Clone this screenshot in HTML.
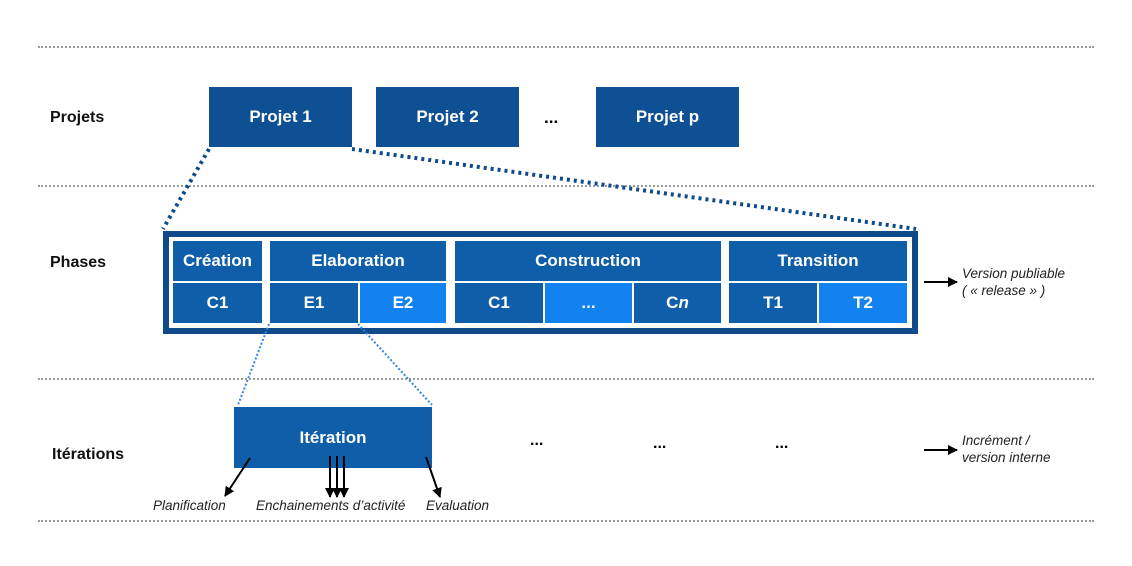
<!DOCTYPE html>
<html><head><meta charset="utf-8"><style>
body{margin:0;width:1132px;height:566px;background:#fff;font-family:"Liberation Sans",Arial,sans-serif;position:relative;overflow:hidden}
.a{position:absolute}
.b{position:absolute;background:#0e5ea9;color:#fff;font-weight:bold;display:flex;align-items:center;justify-content:center;font-size:17px}
.l{background:#1282f0}
.p{background:#0f4f93;font-size:17px}
.lab{position:absolute;font-weight:bold;font-size:16px;color:#111}
.it{position:absolute;font-style:italic;font-size:13.5px;color:#222;line-height:17px}
.dl{position:absolute;left:38px;width:1056px;border-top:2px dotted #999;height:0}
</style></head><body>
<div class="dl" style="top:46px"></div>
<div class="dl" style="top:185px"></div>
<div class="dl" style="top:378px"></div>
<div class="dl" style="top:520px"></div>
<div class="lab" style="left:50px;top:109px">Projets</div>
<div class="lab" style="left:50px;top:254px">Phases</div>
<div class="lab" style="left:52px;top:446px">Itérations</div>
<div class="b p" style="left:209px;top:87px;width:143px;height:60px">Projet 1</div>
<div class="b p" style="left:376px;top:87px;width:143px;height:60px">Projet 2</div>
<div class="a" style="left:544px;top:108px;font-weight:bold;font-size:17px">...</div>
<div class="b p" style="left:596px;top:87px;width:143px;height:60px">Projet p</div>
<div class="a" style="left:163px;top:231px;width:743px;height:91px;border:6px solid #0f4a8a;background:#fff"></div>
<div class="b" style="left:173px;top:241px;width:89px;height:40px">Création</div>
<div class="b" style="left:173px;top:283px;width:89px;height:40px">C1</div>
<div class="b" style="left:270px;top:241px;width:176px;height:40px">Elaboration</div>
<div class="b" style="left:270px;top:283px;width:88px;height:40px">E1</div>
<div class="b l" style="left:360px;top:283px;width:86px;height:40px">E2</div>
<div class="b" style="left:455px;top:241px;width:266px;height:40px">Construction</div>
<div class="b" style="left:455px;top:283px;width:88px;height:40px">C1</div>
<div class="b l" style="left:545px;top:283px;width:87px;height:40px">...</div>
<div class="b" style="left:634px;top:283px;width:87px;height:40px">C<i>n</i></div>
<div class="b" style="left:729px;top:241px;width:178px;height:40px">Transition</div>
<div class="b" style="left:729px;top:283px;width:88px;height:40px">T1</div>
<div class="b l" style="left:819px;top:283px;width:88px;height:40px">T2</div>
<div class="b" style="left:234px;top:407px;width:198px;height:61px">Itération</div>
<div class="a" style="left:530px;top:432px;font-weight:bold;font-size:16px">...</div>
<div class="a" style="left:653px;top:435px;font-weight:bold;font-size:16px">...</div>
<div class="a" style="left:775px;top:435px;font-weight:bold;font-size:16px">...</div>
<svg class="a" style="left:0;top:0" width="1132" height="566">
<defs><marker id="m" markerWidth="10" markerHeight="10" refX="9" refY="5" orient="auto" markerUnits="userSpaceOnUse"><path d="M0,0L10,5L0,10z" fill="#000"/></marker></defs>
<g stroke="#0f4a8a" stroke-width="4" stroke-dasharray="3 4">
<line x1="209" y1="149" x2="163" y2="229"/><line x1="352" y1="149" x2="916" y2="229"/></g>
<g stroke="#2d86e8" stroke-width="2" stroke-dasharray="2 2">
<line x1="269" y1="324" x2="238" y2="405"/><line x1="358" y1="324" x2="432" y2="405"/></g>
<g stroke="#000" stroke-width="2" marker-end="url(#m)">
<line x1="250" y1="458" x2="225" y2="496"/><line x1="330" y1="456" x2="330" y2="497"/><line x1="337" y1="456" x2="337" y2="497"/><line x1="344" y1="456" x2="344" y2="497"/><line x1="426" y1="457" x2="440" y2="497"/>
<line x1="924" y1="282" x2="957" y2="282"/><line x1="924" y1="450" x2="957" y2="450"/></g>
</svg>
<div class="it" style="left:153px;top:497px">Planification</div>
<div class="it" style="left:256px;top:497px">Enchainements d’activité</div>
<div class="it" style="left:426px;top:497px">Evaluation</div>
<div class="it" style="left:962px;top:265px">Version publiable<br>( « release » )</div>
<div class="it" style="left:962px;top:432px">Incrément /<br>version interne</div>
</body></html>
